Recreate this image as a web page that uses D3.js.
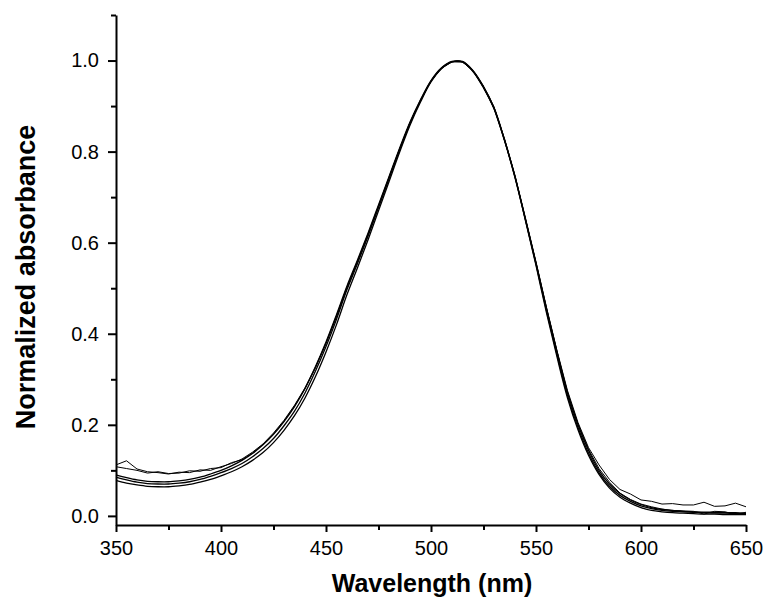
<!DOCTYPE html>
<html>
<head>
<meta charset="utf-8">
<script src="https://cdn.jsdelivr.net/npm/d3@7"></script>
<style>
  body { margin: 0; background: #fff; }
  .axis text { font-family: "Liberation Sans", Arial, sans-serif; font-size: 20px; fill: #000; }
  .axis path, .axis line { stroke: #000; stroke-width: 2; }
  .title { font-family: "Liberation Sans", Arial, sans-serif; font-weight: bold; fill: #000; }
</style>
</head>
<body>
<div id="chart"></div>
<script>
const WAVELENGTHS = d3.range(350, 651, 5);

// five normalized spectra, every 5 nm
const SERIES_A = [0.085,0.079,0.074,0.071,0.070,0.070,0.072,0.075,0.080,0.087,
  0.095,0.104,0.115,0.130,0.148,0.170,0.198,0.230,0.270,0.318,
  0.372,0.432,0.497,0.554,0.614,0.677,0.740,0.803,0.862,0.912,
  0.955,0.983,0.997,0.997,0.977,0.942,0.896,0.826,0.745,0.650,
  0.553,0.450,0.354,0.264,0.194,0.138,0.095,0.065,0.045,0.032,
  0.022,0.016,0.012,0.010,0.009,0.008,0.007,0.006,0.006,0.005,0.005];
const SERIES_B = [0.078,0.072,0.068,0.065,0.064,0.064,0.066,0.069,0.074,0.080,
  0.088,0.097,0.108,0.122,0.139,0.161,0.188,0.220,0.259,0.306,
  0.360,0.420,0.486,0.545,0.606,0.670,0.734,0.798,0.858,0.909,
  0.953,0.982,0.997,0.998,0.978,0.943,0.897,0.826,0.744,0.648,
  0.550,0.446,0.349,0.259,0.189,0.133,0.091,0.061,0.041,0.028,
  0.018,0.012,0.009,0.007,0.006,0.005,0.004,0.004,0.003,0.003,0.003];
const SERIES_C = [0.090,0.084,0.079,0.076,0.075,0.075,0.077,0.080,0.085,0.092,
  0.100,0.110,0.122,0.137,0.156,0.179,0.207,0.240,0.280,0.328,
  0.382,0.442,0.505,0.562,0.621,0.683,0.745,0.807,0.865,0.914,
  0.956,0.984,0.998,0.997,0.976,0.940,0.894,0.824,0.743,0.650,
  0.555,0.455,0.360,0.270,0.200,0.144,0.100,0.070,0.049,0.035,
  0.025,0.018,0.014,0.012,0.010,0.009,0.008,0.008,0.007,0.007,0.006];
const SERIES_D = [0.112,0.121,0.103,0.097,0.095,0.092,0.096,0.095,0.101,0.100,
  0.108,0.115,0.125,0.140,0.158,0.182,0.210,0.243,0.281,0.327,
  0.380,0.440,0.503,0.560,0.619,0.681,0.744,0.806,0.864,0.913,
  0.955,0.984,0.998,0.997,0.978,0.943,0.898,0.828,0.748,0.654,
  0.558,0.458,0.363,0.275,0.205,0.150,0.112,0.080,0.058,0.048,
  0.035,0.032,0.026,0.027,0.024,0.024,0.030,0.021,0.022,0.028,0.020];
const SERIES_E = [0.108,0.104,0.100,0.094,0.097,0.093,0.094,0.099,0.098,0.104,
  0.106,0.117,0.123,0.138,0.157,0.180,0.208,0.241,0.279,0.325,
  0.378,0.437,0.500,0.558,0.617,0.679,0.742,0.804,0.863,0.912,
  0.955,0.983,0.997,0.997,0.977,0.941,0.895,0.825,0.746,0.652,
  0.556,0.456,0.361,0.272,0.202,0.146,0.104,0.074,0.050,0.036,
  0.026,0.020,0.015,0.012,0.011,0.010,0.004,0.010,0.009,0.003,0.008];

const X_TICKS = [350, 400, 450, 500, 550, 600, 650];
const X_MINOR = [375, 425, 475, 525, 575, 625];
const Y_TICKS = [0.0, 0.2, 0.4, 0.6, 0.8, 1.0];
const Y_MINOR = [0.1, 0.3, 0.5, 0.7, 0.9, 1.1];

const X_LABEL = 'Wavelength (nm)';
const Y_LABEL = 'Normalized absorbance';

const WIDTH = 769, HEIGHT = 606;
const LEFT = 116, RIGHT = 746, TOP = 15, BOTTOM = 525;

const svg = d3.select('#chart').append('svg')
  .attr('width', WIDTH)
  .attr('height', HEIGHT);

const x = d3.scaleLinear().domain([350, 650]).range([LEFT, RIGHT]);
const y = d3.scaleLinear().domain([-0.02, 1.1]).range([BOTTOM, TOP]);

const smoothLine = d3.line()
  .x((d, i) => x(WAVELENGTHS[i]))
  .y(d => y(d))
  .curve(d3.curveCatmullRom);

const rawLine = d3.line()
  .x((d, i) => x(WAVELENGTHS[i]))
  .y(d => y(d));

const allSeries = [
  { values: SERIES_D, w: 1, gen: rawLine },
  { values: SERIES_E, w: 1, gen: rawLine },
  { values: SERIES_B, w: 1.3, gen: smoothLine },
  { values: SERIES_C, w: 1.3, gen: smoothLine },
  { values: SERIES_A, w: 1.3, gen: smoothLine }
];

svg.append('g').selectAll('path')
  .data(allSeries)
  .enter()
  .append('path')
    .attr('d', d => d.gen(d.values))
    .attr('fill', 'none')
    .attr('stroke', '#000')
    .attr('stroke-width', d => d.w)
    .attr('stroke-linejoin', 'round');

// x axis
svg.append('g')
  .attr('class', 'axis')
  .attr('transform', `translate(0, ${BOTTOM})`)
  .call(d3.axisBottom(x).tickValues(X_TICKS).tickSize(7).tickSizeOuter(0).tickPadding(9).tickFormat(d3.format('d')));

svg.append('g')
  .attr('class', 'axis')
  .attr('transform', `translate(0, ${BOTTOM})`)
  .call(d3.axisBottom(x).tickValues(X_MINOR).tickSize(5).tickFormat(''))
  .call(g => g.select('.domain').remove());

// y axis
svg.append('g')
  .attr('class', 'axis')
  .attr('transform', `translate(${LEFT}, 0)`)
  .call(d3.axisLeft(y).tickValues(Y_TICKS).tickSize(8).tickSizeOuter(0).tickPadding(9).tickFormat(d3.format('.1f')));

svg.append('g')
  .attr('class', 'axis')
  .attr('transform', `translate(${LEFT}, 0)`)
  .call(d3.axisLeft(y).tickValues(Y_MINOR).tickSize(5).tickFormat(''))
  .call(g => g.select('.domain').remove());

svg.append('text')
  .attr('class', 'title')
  .attr('x', 432)
  .attr('y', 592)
  .attr('font-size', 25)
  .attr('text-anchor', 'middle')
  .text(X_LABEL);

svg.append('text')
  .attr('class', 'title')
  .attr('transform', 'translate(35, 277) rotate(-90)')
  .attr('font-size', 27)
  .attr('text-anchor', 'middle')
  .text(Y_LABEL);
</script>
</body>
</html>
